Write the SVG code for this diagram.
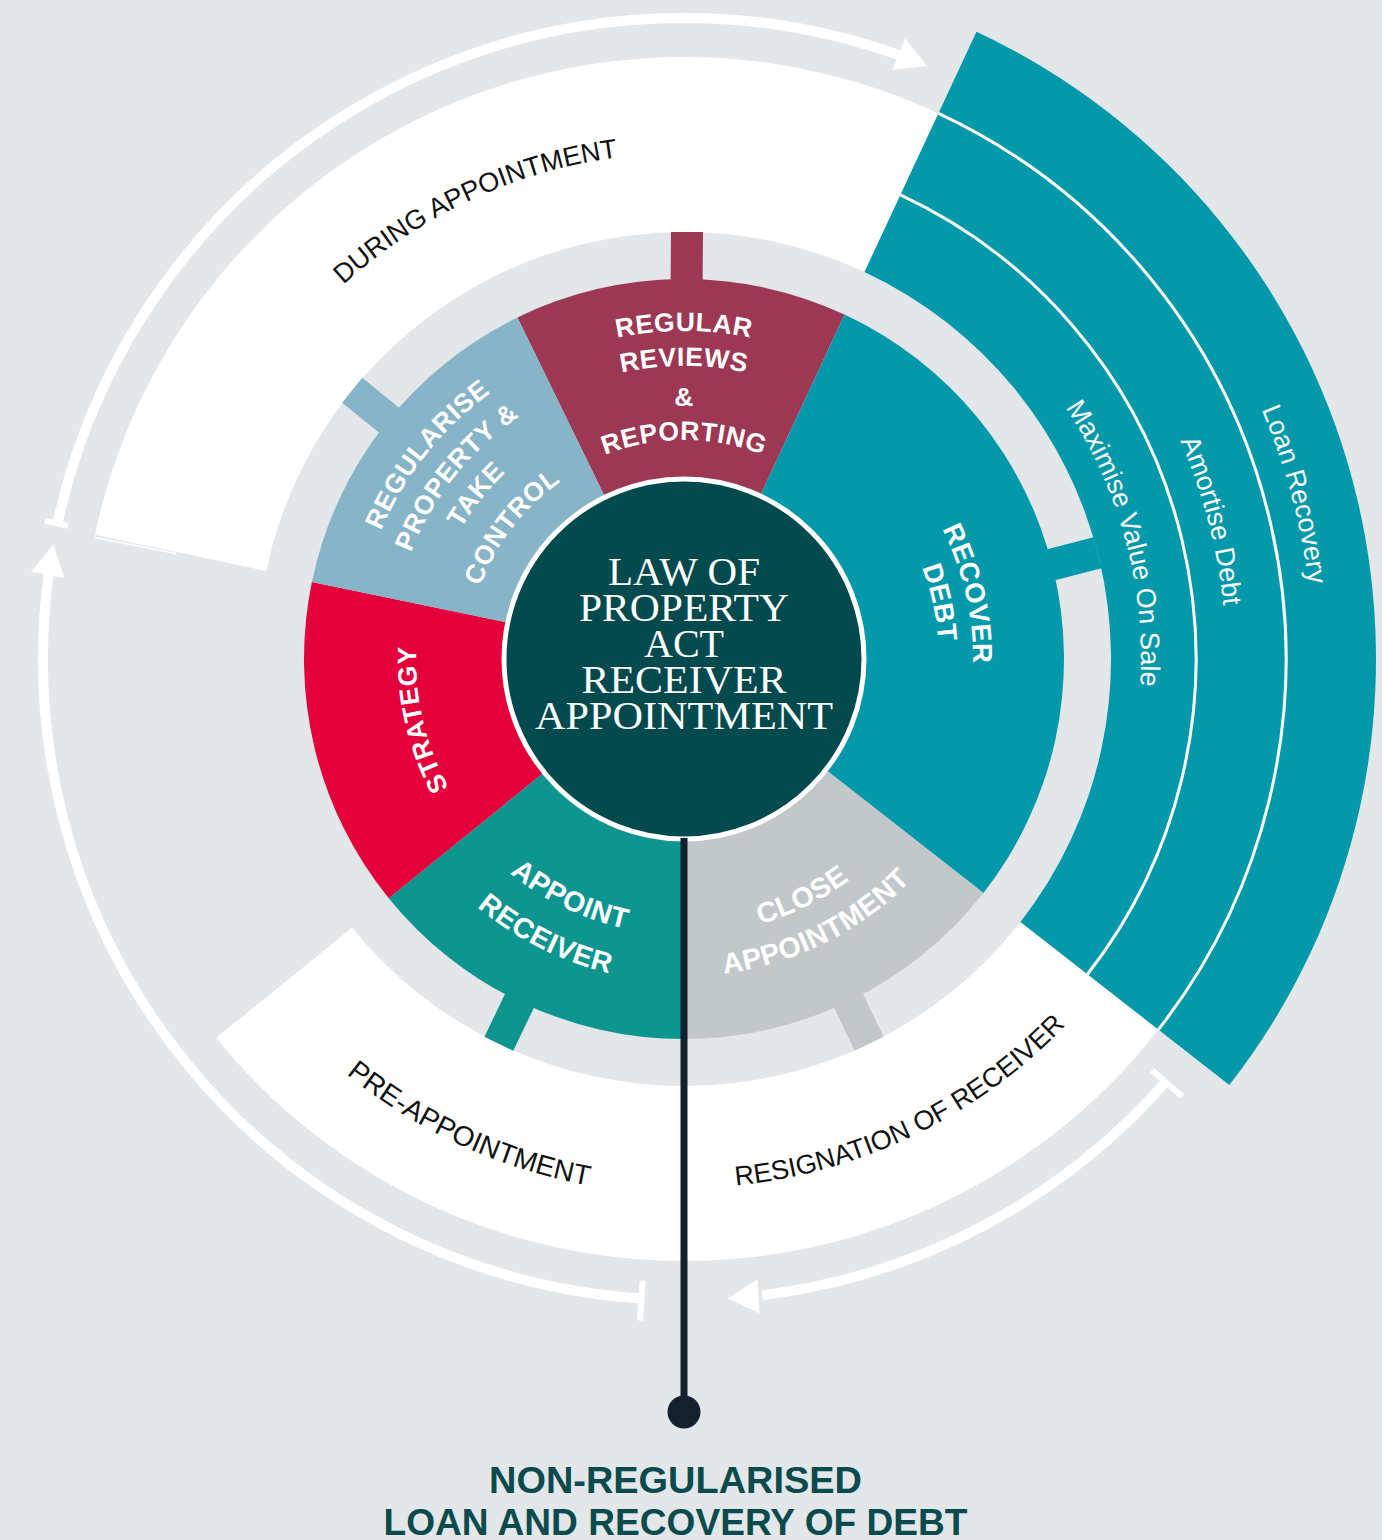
<svg xmlns="http://www.w3.org/2000/svg" width="1382" height="1540" viewBox="0 0 1382 1540">
<style>
.lbl{font-family:"Liberation Sans",Arial,sans-serif;font-weight:700;font-size:26.5px;fill:#fff;letter-spacing:0.5px}
.lbl.mid{font-size:27.5px}
.lbl.big{font-size:28.5px}
.phase{font-family:"Liberation Sans",Arial,sans-serif;font-size:27px;fill:#111}
.phase.wide{font-size:28px}
.route{font-family:"Liberation Sans",Arial,sans-serif;font-size:27px;fill:#fff}
.core{font-family:"Liberation Serif","Times New Roman",serif;font-size:41px;fill:#fff}
.title{font-family:"Liberation Sans",Arial,sans-serif;font-weight:700;font-size:36px;fill:#0b4a4d}
.arc{fill:none;stroke:#fff;stroke-width:10}
.tick{stroke:#fff;stroke-width:6}
.sep{fill:none;stroke:#fff;stroke-width:3}
</style>
<defs>
  <!-- baselines for curved labels, all centred on (684,659) -->
  <path id="pDuring" d="M208.82,485.11 A506,506 0 0 1 857.89,183.82"/>
  <path id="pReg1" d="M452.07,427.07 A328,328 0 0 1 915.93,427.07"/>
  <path id="pReg2" d="M476.82,451.82 A293,293 0 0 1 891.18,451.82"/>
  <path id="pReg3" d="M505.10,480.10 A253,253 0 0 1 862.90,480.10"/>
  <path id="pReg4" d="M529.14,504.14 A219,219 0 0 1 838.86,504.14"/>
  <path id="pTake1" d="M357.12,696.24 A329,329 0 0 1 646.76,332.12"/>
  <path id="pTake2" d="M392.83,691.66 A293,293 0 0 1 651.34,367.83"/>
  <path id="pTake3" d="M427.76,689.10 A258,258 0 0 1 653.90,402.76"/>
  <path id="pTake4" d="M469.85,687.19 A216,216 0 0 1 655.81,444.85"/>
  <path id="pStrat" d="M541.98,886.28 A268,268 0 0 1 456.72,516.98"/>
  <path id="pRec1" d="M837.59,414.15 A289,289 0 0 1 928.85,812.59"/>
  <path id="pRec2" d="M821.20,444.06 A255,255 0 0 1 898.94,796.20"/>
  <path id="pMax" d="M912.5,263.23 A457,457 0 0 1 1079.77,887.5"/>
  <path id="pAmo" d="M957.46,191.04 A542,542 0 0 1 1151.96,932.46"/>
  <path id="pLoan" d="M997.55,113.72 A629,629 0 0 1 1229.28,972.55"/>
  <path id="pPre" d="M182.23,844.61 A535,535 0 0 0 869.61,1160.77"/>
  <path id="pRes" d="M510.90,1158.88 A529,529 0 0 0 1183.88,832.10"/>
  <path id="pApp1" d="M423.66,750.68 A276,276 0 0 0 775.68,919.34"/>
  <path id="pApp2" d="M377.51,760.96 A323,323 0 0 0 785.96,965.49"/>
  <path id="pClo1" d="M596.43,920.75 A276,276 0 0 0 945.75,746.57"/>
  <path id="pClo2" d="M583.42,959.63 A317,317 0 0 0 984.63,759.58"/>
  <!-- arrowhead drawn at angle 0 on the r=641 ring, pointing clockwise -->
  <polygon id="head" points="1325,659 1308,628 1342,628" fill="#fff"/>
</defs>

<rect width="1382" height="1540" fill="#e3e7ea"/>

<!-- outer phase bands -->
<g id="phase-during">
  <path d="M94.94,534.87 A602,602 0 0 1 938.42,113.40 L864.46,272.01 A427,427 0 0 0 266.18,570.95 Z" fill="#fff"/>
  <line x1="95" y1="537.5" x2="176" y2="553.5" stroke="#fff" stroke-width="1.5"/>
  <text class="phase"><textPath href="#pDuring" startOffset="50%" text-anchor="middle">DURING APPOINTMENT</textPath></text>
</g>
<g id="phase-bottom">
  <path d="M1158.38,1029.63 A602,602 0 0 1 216.16,1037.85 L352.16,927.72 A427,427 0 0 0 1020.48,921.89 Z" fill="#fff"/>
  <text class="phase wide"><textPath href="#pPre" startOffset="50%" text-anchor="middle">PRE-APPOINTMENT</textPath></text>
  <text class="phase"><textPath href="#pRes" startOffset="50%" text-anchor="middle">RESIGNATION OF RECEIVER</textPath></text>
</g>
<g id="recovery-routes">
  <path d="M976.45,31.83 A692,692 0 0 1 1229.30,1085.04 L1020.48,921.89 A427,427 0 0 0 864.46,272.01 Z" fill="#0399ab"/>
  <path class="sep" d="M900.38,194.97 A512,512 0 0 1 1087.46,974.22"/>
  <path class="sep" d="M938.42,113.40 A602,602 0 0 1 1158.38,1029.63"/>
  <text class="route"><textPath href="#pMax" startOffset="50%" text-anchor="middle">Maximise Value On Sale</textPath></text>
  <text class="route"><textPath href="#pAmo" startOffset="50%" text-anchor="middle">Amortise Debt</textPath></text>
  <text class="route"><textPath href="#pLoan" startOffset="50%" text-anchor="middle">Loan Recovery</textPath></text>
</g>

<!-- inner ring of steps, each with its stem out to the band -->
<g id="step-reviews">
  <rect x="1058" y="643" width="53" height="32" fill="#9c3854" transform="rotate(-89.6 684 659)"/>
  <path d="M684,659 L517.42,317.46 A380,380 0 0 1 844.6,314.6 Z" fill="#9c3854"/>
  <text class="lbl"><textPath href="#pReg1" startOffset="50%" text-anchor="middle">REGULAR</textPath></text>
  <text class="lbl"><textPath href="#pReg2" startOffset="50%" text-anchor="middle">REVIEWS</textPath></text>
  <text class="lbl"><textPath href="#pReg3" startOffset="50%" text-anchor="middle">&amp;</textPath></text>
  <text class="lbl"><textPath href="#pReg4" startOffset="50%" text-anchor="middle">REPORTING</textPath></text>
</g>
<g id="step-recover">
  <rect x="1058" y="643" width="53" height="32" fill="#0399ab" transform="rotate(-14.4 684 659)"/>
  <path d="M684,659 L844.6,314.6 A380,380 0 0 1 983.44,892.95 Z" fill="#0399ab"/>
  <text class="lbl mid"><textPath href="#pRec1" startOffset="50%" text-anchor="middle">RECOVER</textPath></text>
  <text class="lbl mid"><textPath href="#pRec2" startOffset="50%" text-anchor="middle">DEBT</textPath></text>
</g>
<g id="step-close">
  <rect x="1058" y="643" width="53" height="32" fill="#c2c7c9" transform="rotate(64.3 684 659)"/>
  <path d="M684,659 L983.44,892.95 A380,380 0 0 1 684,1039 Z" fill="#c2c7c9"/>
  <text class="lbl big"><textPath href="#pClo1" startOffset="50%" text-anchor="middle">CLOSE</textPath></text>
  <text class="lbl big"><textPath href="#pClo2" startOffset="50%" text-anchor="middle">APPOINTMENT</textPath></text>
</g>
<g id="step-appoint">
  <rect x="1058" y="643" width="53" height="32" fill="#0f9590" transform="rotate(115.7 684 659)"/>
  <path d="M684,659 L684,1039 A380,380 0 0 1 388.68,898.14 Z" fill="#0f9590"/>
  <text class="lbl big"><textPath href="#pApp1" startOffset="50%" text-anchor="middle">APPOINT</textPath></text>
  <text class="lbl big"><textPath href="#pApp2" startOffset="50%" text-anchor="middle">RECEIVER</textPath></text>
</g>
<g id="step-strategy">
  <path d="M684,659 L388.68,898.14 A380,380 0 0 1 311.9,581.94 Z" fill="#e4003b"/>
  <text class="lbl"><textPath href="#pStrat" startOffset="50%" text-anchor="middle">STRATEGY</textPath></text>
</g>
<g id="step-control">
  <rect x="1058" y="643" width="53" height="32" fill="#87b4c7" transform="rotate(-141 684 659)"/>
  <path d="M684,659 L311.9,581.94 A380,380 0 0 1 517.42,317.46 Z" fill="#87b4c7"/>
  <text class="lbl"><textPath href="#pTake1" startOffset="50%" text-anchor="middle">REGULARISE</textPath></text>
  <text class="lbl"><textPath href="#pTake2" startOffset="50%" text-anchor="middle">PROPERTY &amp;</textPath></text>
  <text class="lbl"><textPath href="#pTake3" startOffset="50%" text-anchor="middle">TAKE</textPath></text>
  <text class="lbl"><textPath href="#pTake4" startOffset="50%" text-anchor="middle">CONTROL</textPath></text>
</g>

<!-- hub -->
<g id="hub">
  <circle cx="684" cy="659" r="180" fill="#034a4e" stroke="#fff" stroke-width="5"/>
  <text class="core" x="684" y="585" text-anchor="middle" textLength="152" lengthAdjust="spacingAndGlyphs">LAW OF</text>
  <text class="core" x="684" y="621" text-anchor="middle" textLength="210" lengthAdjust="spacingAndGlyphs">PROPERTY</text>
  <text class="core" x="684" y="657" text-anchor="middle" textLength="80" lengthAdjust="spacingAndGlyphs">ACT</text>
  <text class="core" x="684" y="693" text-anchor="middle" textLength="205" lengthAdjust="spacingAndGlyphs">RECEIVER</text>
  <text class="core" x="684" y="729" text-anchor="middle" textLength="298" lengthAdjust="spacingAndGlyphs">APPOINTMENT</text>
</g>

<!-- cycle arrows and the pointer line -->
<g id="connectors">
  <path class="arc" d="M57.47,523.54 A641,641 0 0 1 903.23,56.66"/>
  <use href="#head" transform="rotate(-67.7 684 659)"/>
  <line class="tick" x1="1314" y1="659" x2="1338" y2="659" transform="rotate(-167.8 684 659)"/>

  <path class="arc" d="M641.52,1298.59 A641,641 0 0 1 48.78,573.11"/>
  <use href="#head" transform="rotate(-169.7 684 659)"/>
  <line class="tick" x1="1307" y1="659" x2="1347" y2="659" transform="rotate(93.8 684 659)"/>

  <path class="arc" d="M1165.56,1082.06 A641,641 0 0 1 762.12,1295.22"/>
  <use href="#head" transform="rotate(86.1 684 659)"/>
  <line class="tick" x1="1307" y1="659" x2="1347" y2="659" transform="rotate(41.3 684 659)"/>

  <line x1="684" y1="838" x2="684" y2="1410" stroke="#13212f" stroke-width="7"/>
  <circle cx="684" cy="1412" r="16.5" fill="#13212f"/>
</g>

<g id="caption">
  <text class="title" x="675.5" y="1493" text-anchor="middle" textLength="373" lengthAdjust="spacingAndGlyphs">NON-REGULARISED</text>
  <text class="title" x="675.5" y="1535" text-anchor="middle" textLength="584" lengthAdjust="spacingAndGlyphs">LOAN AND RECOVERY OF DEBT</text>
</g>
</svg>
